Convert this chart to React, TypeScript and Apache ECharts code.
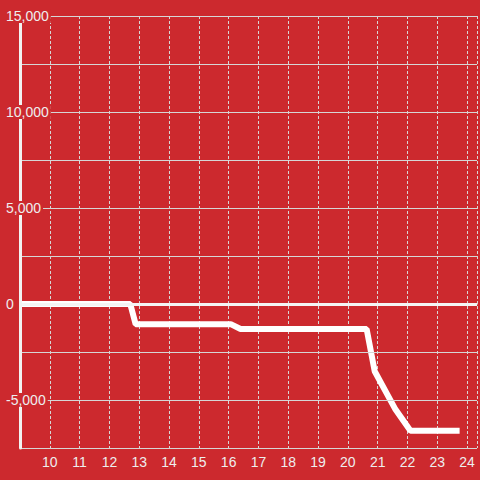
import React, { useEffect, useRef } from "react";
import * as echarts from "echarts";

const xValues = [9, 12.7, 12.88, 16.07, 16.4, 20.63, 20.9, 21.6, 22.1, 23.75];
const yValues = [0, 0, -1050, -1050, -1300, -1300, -3500, -5500, -6600, -6600];
const yTickLabels = [-5000, 0, 5000, 10000, 15000];

const BG = "#cc292e";
const TEXT = "#eeeeee";
const GRID = "#d6d6d6";

export default function App() {
  const ref = useRef<HTMLDivElement>(null);
  useEffect(() => {
    if (!ref.current) return;
    const chart = echarts.init(ref.current, null, { renderer: "svg" });
    const data = xValues.map((x, i) => [x, yValues[i]]);
    chart.setOption({
      animation: false,
      backgroundColor: BG,
      textStyle: { fontFamily: "Liberation Sans, Arial, sans-serif" },
      grid: { left: 20, right: 0, top: 16, bottom: 32, containLabel: false },
      xAxis: {
        type: "value",
        min: 9,
        max: 24.333,
        interval: 1,
        axisLine: { show: true, lineStyle: { color: GRID, width: 1.5 } },
        axisTick: { show: false },
        axisLabel: {
          color: TEXT,
          fontSize: 14,
          margin: 7,
          formatter: (v: number) =>
            Number.isInteger(v) && v >= 10 && v <= 24 ? String(v) : "",
        },
        splitLine: {
          show: true,
          lineStyle: { color: GRID, width: 1, type: [3, 2] },
        },
      },
      yAxis: {
        type: "value",
        min: -7500,
        max: 15000,
        interval: 2500,
        axisLine: { show: true, lineStyle: { color: "#f2f2f2", width: 3 } },
        axisTick: { show: false },
        splitLine: { show: true, lineStyle: { color: GRID, width: 1 } },
        axisLabel: {
          align: "left",
          margin: 14,
          color: TEXT,
          fontSize: 14,
          formatter: (v: number) =>
            yTickLabels.includes(v)
              ? "{a|" + v.toLocaleString("en-US") + "}"
              : "",
          rich: {
            a: {
              color: TEXT,
              fontSize: 14,
              lineHeight: 16,
              backgroundColor: BG,
              padding: [0, 2, 0, 0],
              fontFamily: "Liberation Sans, Arial, sans-serif",
            },
          },
        },
        z: 5,
      },
      series: [
        {
          type: "line",
          data,
          showSymbol: false,
          symbol: "none",
          lineStyle: { color: "#ffffff", width: 6 },
          z: 4,
          markLine: {
            silent: true,
            symbol: "none",
            label: { show: false },
            lineStyle: { color: "#f4f4f4", width: 3, type: "solid" },
            data: [{ yAxis: 0 }],
          },
        },
      ],
    });
    return () => chart.dispose();
  }, []);
  return (
    <div
      ref={ref}
      style={{ position: "absolute", left: 0, top: 0, width: 480, height: 480 }}
    />
  );
}
